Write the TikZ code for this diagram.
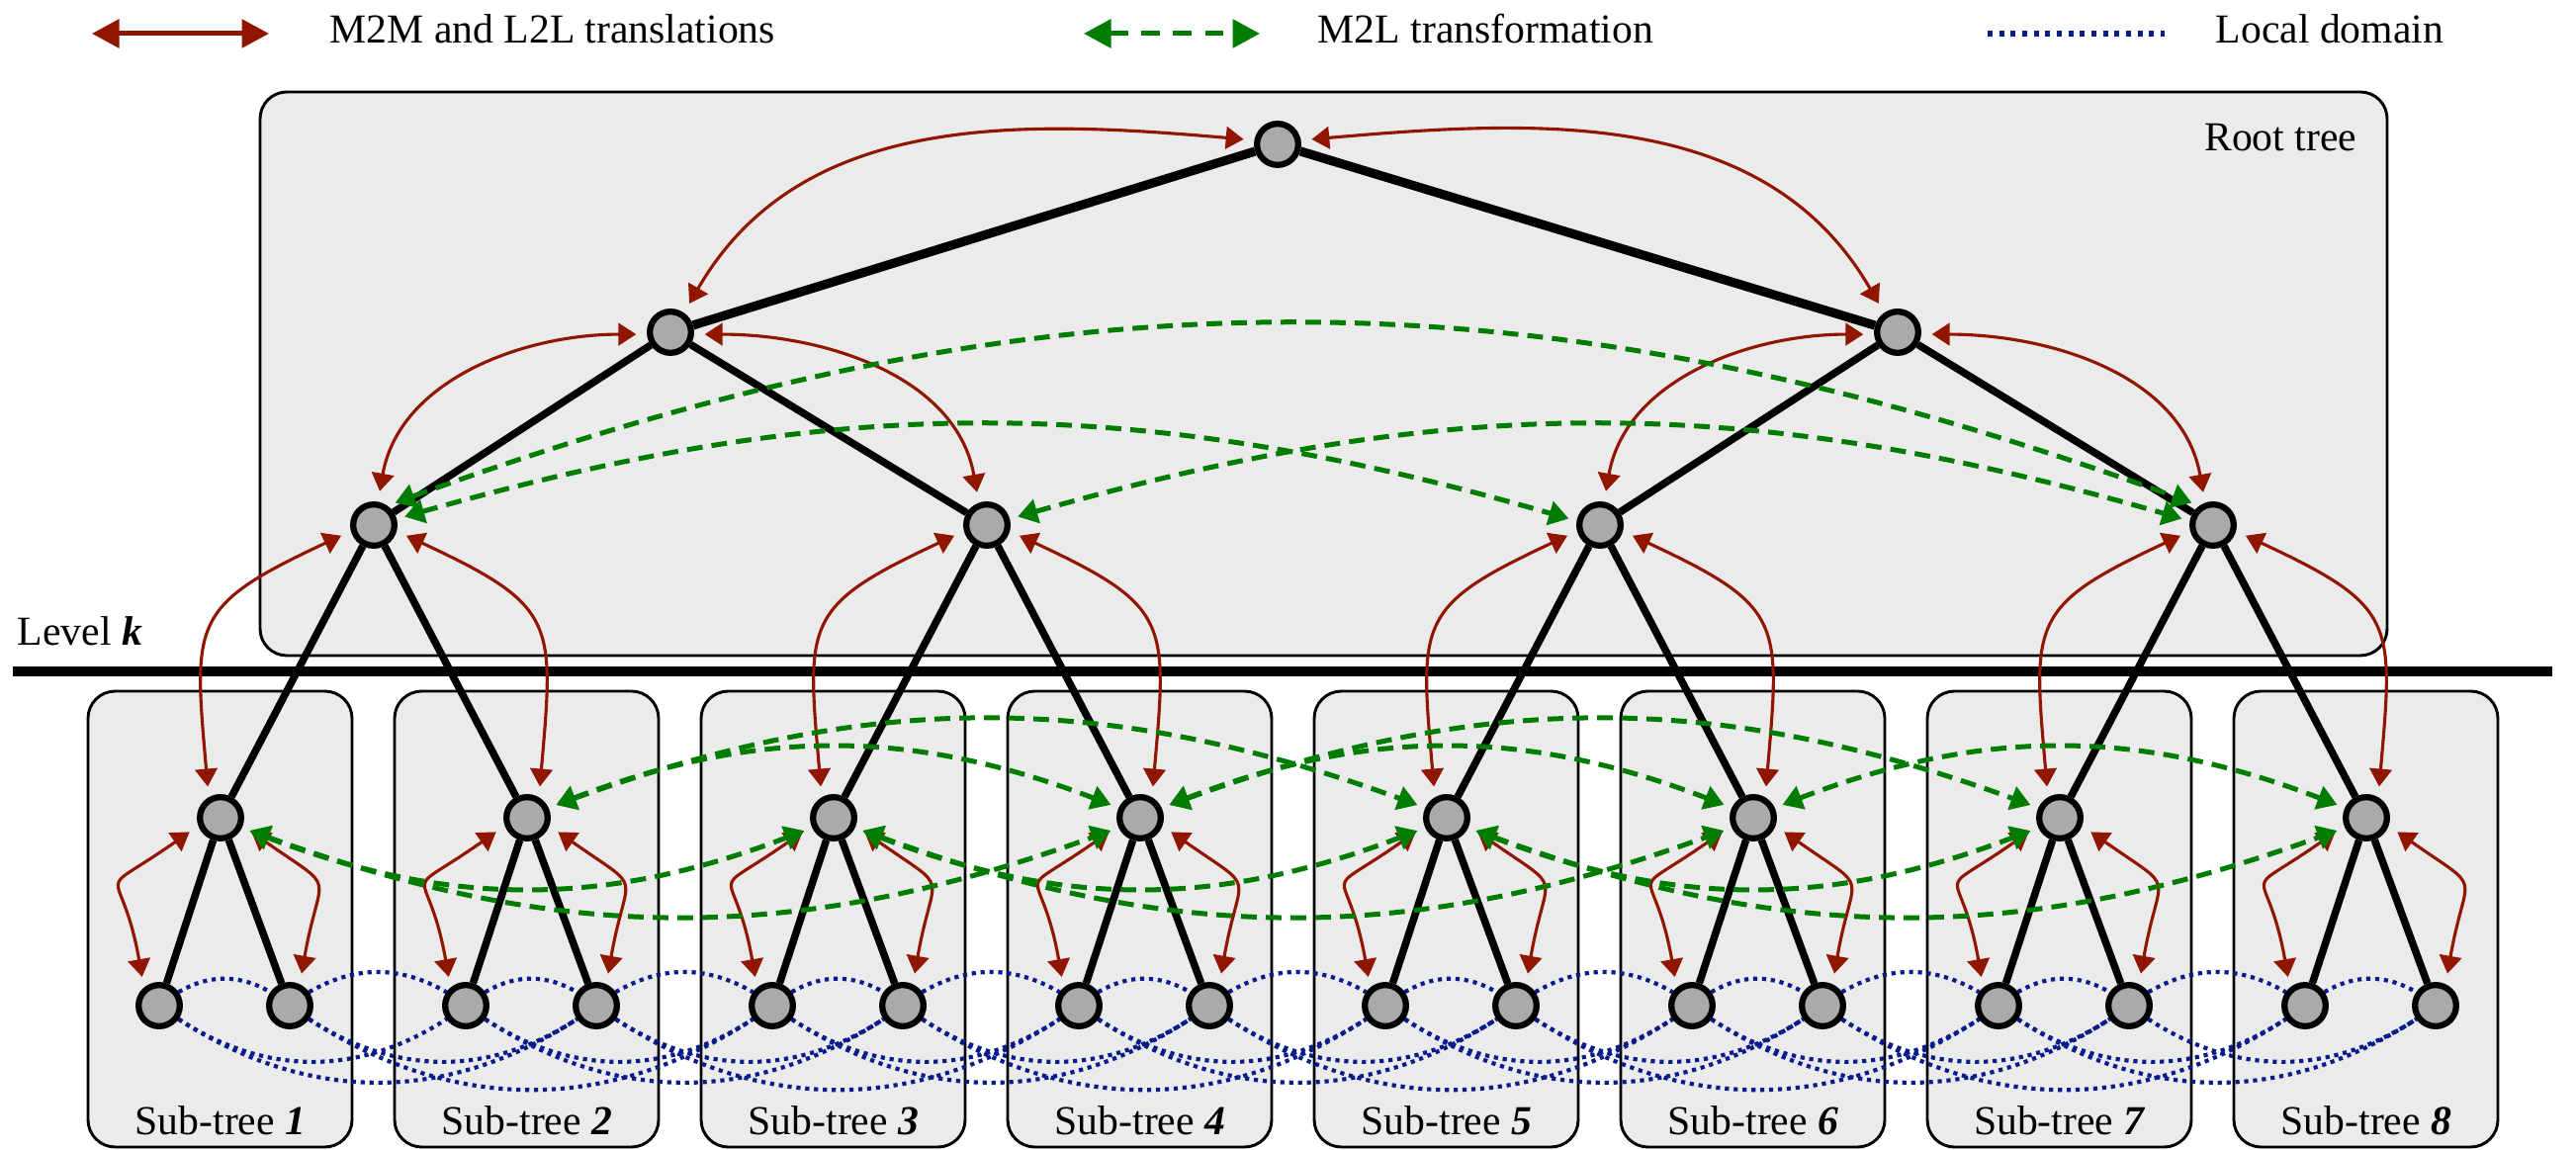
\documentclass[tikz,border=0pt]{standalone}
\usepackage{fontspec}
\setmainfont{Liberation Serif}
\usetikzlibrary{arrows.meta}

\definecolor{m2mred}{RGB}{145,22,0}
\definecolor{m2lgreen}{RGB}{0,125,0}
\definecolor{localblue}{RGB}{8,28,140}
\definecolor{cellgray}{RGB}{170,170,170}
\definecolor{panelgray}{RGB}{235,235,235}

\pgfdeclarelayer{background}
\pgfsetlayers{background,main}

\tikzset{
  cell/.style={circle, draw=black, line width=1.5pt, fill=cellgray,
    minimum size=10pt, inner sep=0pt},
  panel/.style={draw=black, line width=0.7pt, fill=panelgray, rounded corners=6.6pt},
  trunk/.style={line width=2.2pt},
  branch/.style={line width=1.8pt},
  mtwom/.style={draw=m2mred, line width=0.75pt,
    {Triangle[length=4.3pt,width=5.4pt]}-{Triangle[length=4.3pt,width=5.4pt]},
    shorten <=2.6pt, shorten >=2.6pt},
  mtwol/.style={draw=m2lgreen, line width=1.2pt, dash pattern=on 3.8pt off 2.2pt,
    {Triangle[length=4.8pt,width=5.8pt]}-{Triangle[length=4.8pt,width=5.8pt]},
    shorten <=2pt, shorten >=2pt},
  nearfield/.style={draw=localblue, line width=1pt, dash pattern=on 1pt off 1.15pt},
  keyred/.style={draw=m2mred, line width=1.2pt,
    {Triangle[length=6.6pt,width=6.8pt]}-{Triangle[length=6.6pt,width=6.8pt]}},
  keygreen/.style={draw=m2lgreen, line width=1.2pt, dash pattern=on 4.5pt off 3.2pt,
    {Triangle[length=6.6pt,width=6.8pt]}-{Triangle[length=6.6pt,width=6.8pt]}},
  keyblue/.style={draw=localblue, line width=1.4pt, dash pattern=on 1.2pt off 1.6pt},
  txt/.style={font=\fontsize{10}{12}\selectfont, inner sep=0pt},
}

\begin{document}
\begin{tikzpicture}[x=0.24pt, y=-0.24pt]
\useasboundingbox (0,0) rectangle (2605,1163);

% ---- tree cells: root, two upper levels ----
\node[cell] (R)  at (1292,146) {};
\node[cell] (La) at (678,336) {};
\node[cell] (Lb) at (1919,336) {};
\node[cell] (A)  at (378,531) {};
\node[cell] (B)  at (998,531) {};
\node[cell] (C)  at (1618,531) {};
\node[cell] (D)  at (2238,531) {};

% ---- sub-tree roots, leaves and captions ----
\foreach \i in {1,...,8} {
  \pgfmathsetmacro{\cx}{223+310*(\i-1)}
  \pgfmathtruncatemacro{\la}{2*\i-1}
  \pgfmathtruncatemacro{\lb}{2*\i}
  \node[cell] (n\i) at (\cx,827) {};
  \node[cell] (leaf\la) at (\cx-62,1017) {};
  \node[cell] (leaf\lb) at (\cx+70,1017) {};
  \node[txt, anchor=base] (sub\i) at (\cx,1148) {Sub-tree \textbf{\textit{\i}}};
}

% ---- texts ----
\node[txt, anchor=base east] (roottitle) at (2384,153) {Root tree};
\node[txt, anchor=base west] (levelk) at (17,653) {Level \textbf{\textit{k}}};
\node[txt, anchor=base west] (keyredtxt) at (333,44) {M2M and L2L translations};
\node[txt, anchor=base west] (keygreentxt) at (1332,44) {M2L transformation};
\node[txt, anchor=base west] (keybluetxt) at (2240,44) {Local domain};

% ---- legend keys ----
\coordinate (kr1) at (93,34);   \coordinate (kr2) at (272,34);
\coordinate (kg1) at (1096,34); \coordinate (kg2) at (1274,34);
\coordinate (kb1) at (2010,34); \coordinate (kb2) at (2189,34);
\draw[keyred] (kr1) -- (kr2);
\draw[keygreen] (kg1) -- (kg2);
\draw[keyblue] (kb1) -- (kb2);

\begin{pgfonlayer}{background}
  % panels
  \draw[panel, rounded corners=6.5pt] (263,93) rectangle (2414,663);
  \foreach \i in {1,...,8} {
    \pgfmathsetmacro{\bx}{89+310*(\i-1)}
    \draw[panel] (\bx,699) rectangle (\bx+267,1160);
  }
  % level separator
  \draw[line width=2.4pt] (13,679) -- (2581,679);

  % tree edges
  \draw[trunk] (R) -- (La) (R) -- (Lb);
  \draw[branch] (La) -- (A) (La) -- (B) (Lb) -- (C) (Lb) -- (D);
  \foreach \pa/\ca/\cb in {A/1/2,B/3/4,C/5/6,D/7/8}
    \draw[branch] (\pa) -- (n\ca) (\pa) -- (n\cb);
  \foreach \i in {1,...,8} {
    \pgfmathtruncatemacro{\la}{2*\i-1}
    \pgfmathtruncatemacro{\lb}{2*\i}
    \draw[branch] (n\i) -- (leaf\la) (n\i) -- (leaf\lb);
  }

  % local domain between leaves
  \foreach \j in {1,...,15} {
    \pgfmathtruncatemacro{\k}{\j+1}
    \draw[nearfield] (leaf\j.35) to[bend left=30] (leaf\k.145);
  }
  \foreach \j in {1,...,14} {
    \pgfmathtruncatemacro{\k}{\j+2}
    \draw[nearfield] (leaf\j.-35) to[bend right=33] (leaf\k.215);
  }
  \foreach \j in {1,...,13} {
    \pgfmathtruncatemacro{\k}{\j+3}
    \draw[nearfield] (leaf\j.-35) to[bend right=33] (leaf\k.215);
  }

  % M2M / L2L translations
  \draw[mtwom] (R.170) to[out=175,in=60] (La.55);
  \draw[mtwom] (R.10) to[out=5,in=120] (Lb.125);
  \draw[mtwom] (La.185) to[out=180,in=80] (A.80);
  \draw[mtwom] (La.-5) to[out=0,in=100] (B.110);
  \draw[mtwom] (Lb.185) to[out=180,in=80] (C.80);
  \draw[mtwom] (Lb.-5) to[out=0,in=100] (D.110);
  \foreach \pa/\ca/\cb in {A/1/2,B/3/4,C/5/6,D/7/8} {
    \draw[mtwom] (\pa.195) to[out=205,in=95,looseness=1.5] (n\ca.120);
    \draw[mtwom] (\pa.-15) to[out=-25,in=85,looseness=1.5] (n\cb.60);
  }
  \foreach \i in {1,...,8} {
    \pgfmathtruncatemacro{\la}{2*\i-1}
    \pgfmathtruncatemacro{\lb}{2*\i}
    \draw[mtwom] (n\i.200) to[out=215,in=100,looseness=2] (leaf\la.130);
    \draw[mtwom] (n\i.-20) to[out=-35,in=80,looseness=1.8] (leaf\lb.65);
  }

  % M2L transformations
  \draw[mtwol] (A.55) to[bend left=20] (D.125);
  \draw[mtwol] (A.15) to[bend left=16] (C.170);
  \draw[mtwol] (B.15) to[bend left=16] (D.170);
  \foreach \i in {1,3,5} {
    \pgfmathtruncatemacro{\k}{\i+2}
    \pgfmathtruncatemacro{\m}{\i+3}
    \draw[mtwol] (n\i.-25) to[bend right=21] (n\k.205);
    \draw[mtwol] (n\i.-25) to[bend right=20] (n\m.205);
  }
  \foreach \i in {2,4} {
    \pgfmathtruncatemacro{\k}{\i+2}
    \pgfmathtruncatemacro{\m}{\i+3}
    \draw[mtwol] (n\i.25) to[bend left=21] (n\k.155);
    \draw[mtwol] (n\i.25) to[bend left=20] (n\m.155);
  }
  \draw[mtwol] (n6.25) to[bend left=21] (n8.155);
\end{pgfonlayer}
\end{tikzpicture}
\end{document}
